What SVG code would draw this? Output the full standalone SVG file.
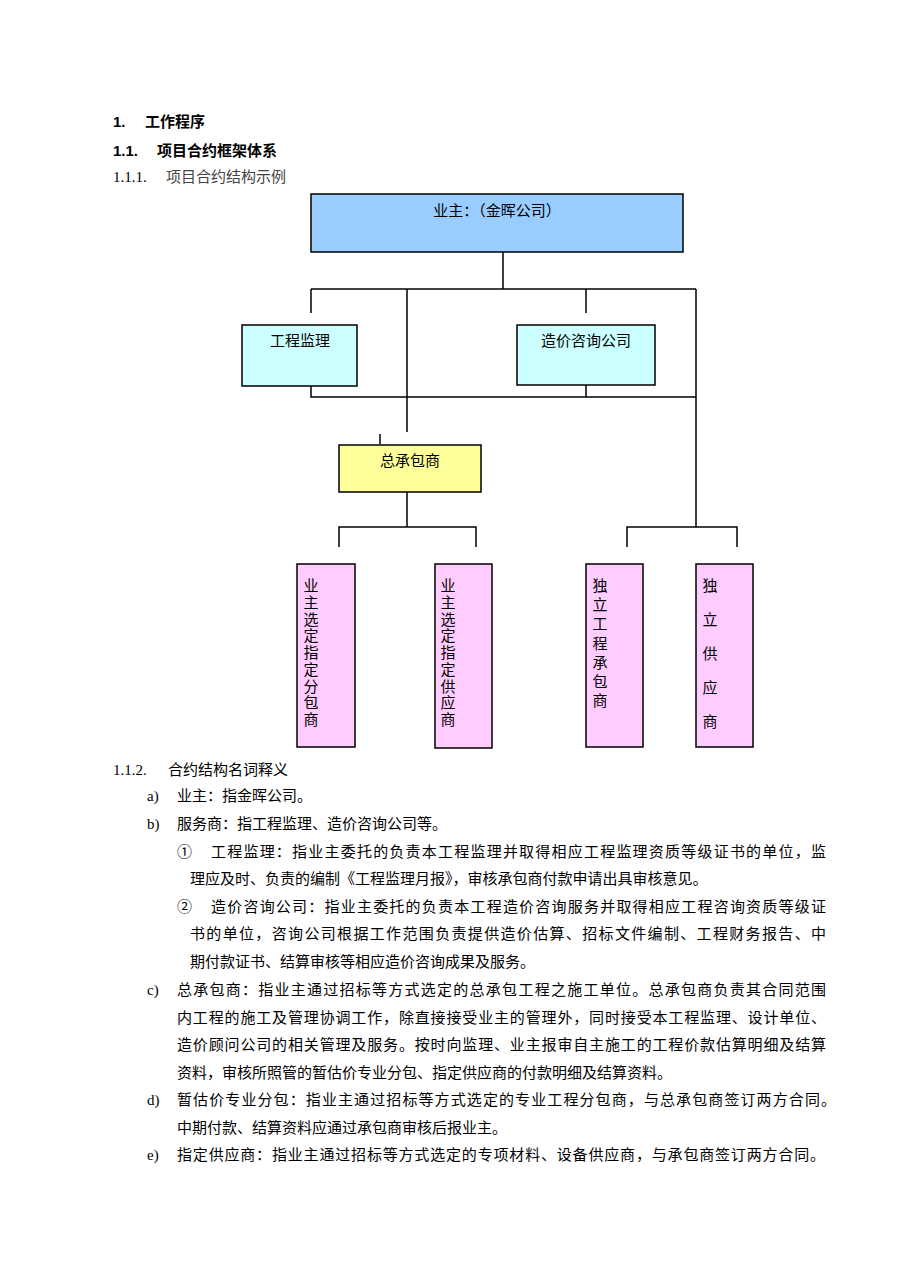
<svg xmlns="http://www.w3.org/2000/svg" width="909" height="1286" viewBox="0 0 909 1286">
<style>
text{font-family:"Liberation Serif","Noto Sans CJK SC",serif;font-size:15px;fill:#000}
.h{font-family:"Liberation Sans","Noto Sans CJK SC",sans-serif;font-weight:bold}
.box{stroke:#000;stroke-width:1.5}
.ln{stroke:#000;stroke-width:1.5;fill:none}
.v{font-size:15px}
</style>
<rect width="909" height="1286" fill="#fff"/>
<text class="h" x="113" y="127" font-size="17">1.</text>
<text class="h" x="145" y="127" font-size="17">工作程序</text>
<text class="h" x="113" y="156">1.1.</text>
<text class="h" x="157" y="156">项目合约框架体系</text>
<text x="113" y="182" fill="#333">1.1.1.</text>
<text x="166" y="182" style="fill:#444">项目合约结构示例</text>

<g id="connectors">
<path class="ln" d="M503,252V289M311,289H696M311,289V313M407,289V432M586,289V313M696,289V527M311,386V397H696M586,385V397M380,434V444M407,492V527M339,547V527H476V547M627,547V527H737V547"/>
</g>
<g id="owner"><rect class="box" x="311" y="194" width="372" height="58" fill="#99ccff"/><text x="497" y="216" text-anchor="middle">业主：（金晖公司）</text></g>
<g id="jianli"><rect class="box" x="242" y="325" width="115" height="61" fill="#ccffff"/><text x="300" y="346" text-anchor="middle">工程监理</text></g>
<g id="zaojia"><rect class="box" x="517" y="325" width="138" height="60" fill="#ccffff"/><text x="586" y="346" text-anchor="middle">造价咨询公司</text></g>
<g id="zongbao"><rect class="box" x="339" y="445" width="142" height="47" fill="#ffff99"/><text x="410" y="466" text-anchor="middle">总承包商</text></g>
<g id="fenbao"><rect class="box" x="297" y="564" width="58" height="183" fill="#ffccff"/>
<text class="v" x="311" y="591" text-anchor="middle"><tspan x="311">业</tspan><tspan x="311" dy="16.75">主</tspan><tspan x="311" dy="16.75">选</tspan><tspan x="311" dy="16.75">定</tspan><tspan x="311" dy="16.75">指</tspan><tspan x="311" dy="16.75">定</tspan><tspan x="311" dy="16.75">分</tspan><tspan x="311" dy="16.75">包</tspan><tspan x="311" dy="16.75">商</tspan></text></g>
<g id="gongying"><rect class="box" x="435" y="564" width="57" height="184" fill="#ffccff"/>
<text class="v" x="448" y="591" text-anchor="middle"><tspan x="448">业</tspan><tspan x="448" dy="16.75">主</tspan><tspan x="448" dy="16.75">选</tspan><tspan x="448" dy="16.75">定</tspan><tspan x="448" dy="16.75">指</tspan><tspan x="448" dy="16.75">定</tspan><tspan x="448" dy="16.75">供</tspan><tspan x="448" dy="16.75">应</tspan><tspan x="448" dy="16.75">商</tspan></text></g>
<g id="duligc"><rect class="box" x="586" y="564" width="57" height="183" fill="#ffccff"/>
<text class="v" x="600" y="591" text-anchor="middle"><tspan x="600">独</tspan><tspan x="600" dy="19.2">立</tspan><tspan x="600" dy="19.2">工</tspan><tspan x="600" dy="19.2">程</tspan><tspan x="600" dy="19.2">承</tspan><tspan x="600" dy="19.2">包</tspan><tspan x="600" dy="19.2">商</tspan></text></g>
<g id="duligy"><rect class="box" x="696" y="564" width="57" height="183" fill="#ffccff"/>
<text class="v" x="710" y="591" text-anchor="middle"><tspan x="710">独</tspan><tspan x="710" dy="34">立</tspan><tspan x="710" dy="34">供</tspan><tspan x="710" dy="34">应</tspan><tspan x="710" dy="34">商</tspan></text></g>

<g id="body">
<text x="113" y="775">1.1.2.</text><text x="168" y="775">合约结构名词释义</text>
<text x="147" y="801">a)</text><text x="177" y="801">业主：指金晖公司。</text>
<text x="147" y="829">b)</text><text x="177" y="829">服务商：指工程监理、造价咨询公司等。</text>
<text x="177" y="857">①</text><text x="211" y="857" textLength="615" lengthAdjust="spacing">工程监理：指业主委托的负责本工程监理并取得相应工程监理资质等级证书的单位，监</text>
<text x="190" y="884">理应及时、负责的编制《工程监理月报》，审核承包商付款申请出具审核意见。</text>
<text x="177" y="912">②</text><text x="211" y="912" textLength="615" lengthAdjust="spacing">造价咨询公司：指业主委托的负责本工程造价咨询服务并取得相应工程咨询资质等级证</text>
<text x="190" y="939" textLength="636" lengthAdjust="spacing">书的单位，咨询公司根据工作范围负责提供造价估算、招标文件编制、工程财务报告、中</text>
<text x="190" y="967">期付款证书、结算审核等相应造价咨询成果及服务。</text>
<text x="147" y="995">c)</text><text x="177" y="995" textLength="649" lengthAdjust="spacing">总承包商：指业主通过招标等方式选定的总承包工程之施工单位。总承包商负责其合同范围</text>
<text x="177" y="1023" textLength="649" lengthAdjust="spacing">内工程的施工及管理协调工作，除直接接受业主的管理外，同时接受本工程监理、设计单位、</text>
<text x="177" y="1050" textLength="649" lengthAdjust="spacing">造价顾问公司的相关管理及服务。按时向监理、业主报审自主施工的工程价款估算明细及结算</text>
<text x="177" y="1078">资料，审核所照管的暂估价专业分包、指定供应商的付款明细及结算资料。</text>
<text x="147" y="1105">d)</text><text x="177" y="1105" textLength="659" lengthAdjust="spacing">暂估价专业分包：指业主通过招标等方式选定的专业工程分包商，与总承包商签订两方合同。</text>
<text x="177" y="1133">中期付款、结算资料应通过承包商审核后报业主。</text>
<text x="147" y="1160">e)</text><text x="177" y="1160" textLength="648" lengthAdjust="spacing">指定供应商：指业主通过招标等方式选定的专项材料、设备供应商，与承包商签订两方合同。</text>
</g>
</svg>
